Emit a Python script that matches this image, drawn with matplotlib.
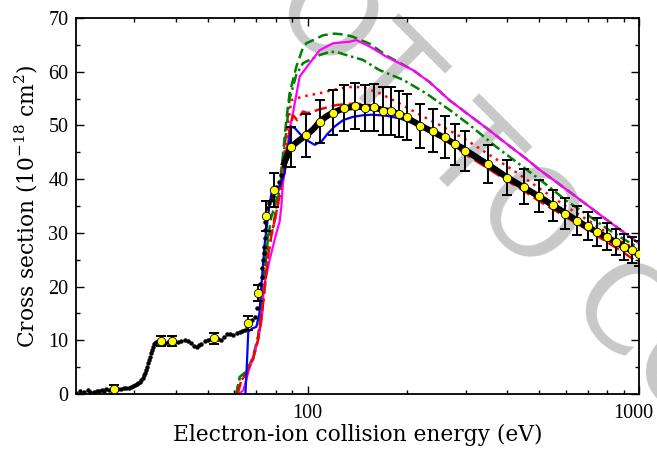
import numpy as np
import matplotlib
matplotlib.use("Agg")
import matplotlib.pyplot as plt
import matplotlib.transforms as mtransforms
from matplotlib.ticker import FixedLocator, FixedFormatter, NullFormatter, MultipleLocator

plt.rcParams['font.family'] = ['DejaVu Serif']
plt.rcParams['mathtext.fontset'] = 'dejavuserif'

# experiment, low-energy small dots
dots_E = [20.0, 20.6, 21.2, 21.7, 22.1, 22.6, 23.1, 23.5, 23.9, 24.3, 24.7, 25.2, 25.7, 26.3, 26.8,
          27.4, 27.9, 28.4, 28.9, 29.4, 29.8, 30.1, 30.5, 30.8, 31.2, 31.5, 31.8, 32.0, 32.3, 32.5,
          32.7, 32.9, 33.2, 33.4, 33.6, 33.8, 34.1, 34.3, 34.6, 34.9, 35.4, 36.0, 36.6, 37.2, 37.8,
          38.3, 39.0, 39.8, 40.6, 41.5, 42.6, 43.6, 44.6, 45.4, 46.2, 47.0, 47.8, 48.9, 50.0, 51.2,
          52.4, 53.6, 54.9, 55.9, 56.9, 58.2, 59.6, 61.0, 62.4, 63.5, 64.6, 65.8, 66.9, 68.0, 69.2,
          70.2, 71.2, 72.0, 72.6, 73.0, 73.3, 73.6, 73.8, 74.1, 74.3, 74.6, 74.9, 75.6, 76.3, 77.4,
          78.6, 79.5, 80.4, 81.8, 83.3, 84.8, 86.2]
dots_y = [0.2, 0.5, 0.3, 0.75, 0.4, 0.4, 0.6, 0.5, 0.75, 0.6, 0.9, 0.75, 0.8, 0.9, 0.9,
          1.0, 1.1, 1.2, 1.1, 1.3, 1.4, 1.6, 1.8, 2.0, 2.3, 2.6, 3.0, 3.5, 4.0, 4.5,
          5.1, 5.7, 6.3, 6.9, 7.6, 8.2, 8.8, 9.3, 9.5, 9.7, 9.8, 9.7, 9.7, 9.5, 9.6,
          9.6, 9.5, 9.6, 9.7, 9.9, 10.0, 9.8, 9.5, 9.0, 8.8, 9.1, 9.4, 9.8, 10.0, 10.3,
          10.4, 10.2, 10.0, 10.6, 11.2, 11.1, 11.0, 11.3, 11.5, 11.8, 12.0, 12.6, 13.2, 13.8, 14.4,
          16.0, 18.7, 20.5, 21.8, 23.4, 24.9, 26.2, 27.4, 29.0, 30.5, 32.0, 33.6, 34.6, 35.5, 36.1,
          36.9, 37.8, 38.6, 39.5, 40.8, 42.5, 44.0]

# experiment, thick line
exp_E = [85, 88.9, 94.6, 99.1, 104, 108.7, 114, 119.2, 128.7, 138.6, 148.9, 158.5, 168.7, 178.8,
         189.4, 198.4, 218.7, 238.8, 258.9, 278.9, 299.6, 348.4, 398.2, 448, 498.5, 547, 598.5,
         648.9, 699, 749, 797.6, 848.9, 899, 948.7, 1000]
exp_y = [43.0, 46.0, 47.3, 48.2, 49.3, 50.7, 51.7, 52.4, 53.2, 53.5, 53.4, 53.3, 52.9, 52.6,
         52.1, 51.5, 50.0, 48.8, 47.7, 46.5, 45.3, 42.8, 40.4, 38.5, 36.8, 35.2, 33.7,
         32.3, 31.1, 30.1, 29.2, 28.3, 27.4, 26.7, 26.0]

# experiment, absolute points
pts_E = [26, 36, 39, 52, 66, 71, 75, 79, 89, 99, 109, 119, 129, 139, 149, 159, 169, 179, 189, 199,
         219, 239, 259, 279, 299, 349, 399, 449, 499, 549, 599, 649, 699, 749, 799, 849, 899, 949, 999]
pts_y = [0.87, 9.9, 9.9, 10.4, 13.2, 18.75, 33.2, 38.0, 46.0, 48.2, 50.7, 52.4, 53.3, 53.6, 53.3,
         53.4, 52.7, 52.7, 52.1, 51.5, 49.9, 49.0, 47.9, 46.5, 45.3, 42.8, 40.3, 38.6, 36.8, 35.1,
         33.6, 32.3, 31.2, 30.1, 29.3, 28.3, 27.4, 26.75, 26.1]
pts_err = [0.8, 0.9, 0.9, 1.0, 1.3, 1.5, 2.8, 3.1, 3.7, 4.0, 4.0, 4.2, 4.3, 4.3, 4.3, 4.4, 4.4,
           4.4, 4.3, 4.3, 4.1, 4.0, 3.9, 3.8, 3.7, 3.5, 3.3, 3.2, 3.0, 2.9, 2.8, 2.7, 2.6, 2.6,
           2.5, 2.5, 2.4, 2.4, 2.3]

# theory curves
blue_E = [64.9, 65.6, 66.2, 68.0, 70.0, 71.5, 72.6, 74.2, 76.8, 78.3, 80.0, 82.3, 85.2, 87.5, 89.3,
          91.5, 94.6, 99, 105, 110, 115, 120.6, 128, 137, 147, 157, 173, 190, 210, 240, 270, 294,
          340, 397, 450, 500, 600, 700, 800, 900, 1000]
blue_y = [0, 6.0, 11.6, 12.2, 12.5, 15.0, 20.6, 28.0, 35.5, 38.3, 38.5, 38.6, 41.1, 46.0, 49.8,
          49.5, 48.5, 47.3, 46.4, 47.0, 48.5, 49.8, 51.0, 51.6, 51.9, 52.0, 51.8, 51.3, 50.3, 48.6,
          47.2, 46.2, 43.6, 40.8, 38.6, 36.8, 33.8, 31.2, 29.2, 27.5, 26.1]

magenta_E = [62.0, 64.0, 66.9, 69.0, 70.8, 72.5, 73.3, 73.5, 76.8, 80.4, 82.3, 83.3, 84.2, 86.2,
             88.0, 90.3, 94.6, 101.4, 108.7, 119.2, 133.9, 140.2, 153.9, 172.8, 207.9, 233, 268,
             300, 350, 400, 450, 500, 600, 700, 800, 900, 1000]
magenta_y = [0.0, 0.7, 5.1, 7.5, 10.0, 13.5, 16.3, 19.5, 25.0, 29.9, 32.1, 34.9, 39.2, 43.6,
             49.0, 52.3, 59.1, 61.6, 64.0, 65.3, 65.6, 65.9, 64.7, 62.8, 60.3, 58.1, 54.7,
             52.4, 49.3, 46.5, 44.1, 41.8, 38.2, 35.1, 32.4, 30.1, 28.0]

green1_E = [60.9, 62.4, 65.3, 68.4, 70.8, 72.6, 73.3, 75.9, 77.7, 80.0, 82.3, 84.2, 86.2, 88.2,
            90.3, 92.5, 96.8, 99.1, 104, 111.3, 120.6, 130, 137, 146, 154, 173, 208, 233, 268,
            300, 350, 400, 450, 500, 600, 700, 800, 900, 1000]
green1_y = [0, 3.2, 4.2, 6.9, 10.7, 15.6, 19.4, 29.0, 33.0, 35.5, 38.8, 44.5, 51.0, 56.0,
            58.5, 61.0, 64.5, 65.3, 65.9, 66.8, 67.1, 66.9, 66.5, 65.8, 65.2, 63.0, 60.3, 58.1, 54.7,
            52.4, 49.3, 46.5, 44.1, 41.8, 38.2, 35.1, 32.4, 30.1, 28.0]

green2_E = [60.9, 62.4, 65.3, 68.4, 70.8, 72.6, 73.3, 75.0, 75.9, 77.7, 78.6, 80.0, 82.3, 84.2,
            86.2, 88.2, 92.5, 96.8, 103.8, 108.7, 116.5, 122, 130.9, 146.8, 164.8, 194, 227.5,
            268, 308, 371, 446, 535, 603, 700, 800, 900, 1000]
green2_y = [0, 3.0, 4.0, 6.5, 10.3, 15.0, 19.0, 27.0, 29.5, 30.0, 31.0, 34.0, 38.0, 43.0,
            49.0, 55.0, 59.5, 61.6, 62.5, 63.1, 63.7, 63.7, 63.1, 62.2, 60.3, 58.5, 56.0,
            52.9, 50.1, 46.0, 42.3, 38.6, 36.0, 33.3, 30.8, 28.8, 27.2]

reddot_E = [61.5, 63, 65.3, 68.4, 70.8, 72.6, 74, 76, 78, 80, 82.3, 84.2, 86.2, 89.3, 96.8, 108.7,
            124.9, 137, 147, 165, 189.4, 217.8, 250, 301, 354, 416, 500, 603, 724, 833, 1000]
reddot_y = [0, 2.5, 3.8, 6.5, 10.0, 14.5, 19.0, 26, 30, 33, 37, 42, 48, 54.7, 55.4, 56.0,
            56.9, 57.2, 57.1, 56.0, 54.1, 52.0, 50.1, 47.3, 44.5, 41.7, 38.3, 34.9, 31.8, 29.3, 26.6]

reddash_E = [61.5, 63, 65.3, 68.4, 70.8, 72.6, 74, 76, 78, 80, 82.3, 84.2, 86.2, 88.2, 90.3, 93,
             96.8, 100, 108.7, 122, 140, 160, 180, 200, 230, 260, 300, 350, 400, 450, 500, 600,
             700, 800, 900, 1000]
reddash_y = [0, 2.5, 3.8, 6.5, 10.0, 14.5, 19.0, 26, 30, 33, 37, 41, 45, 49, 51.9, 51.0,
             52.6, 52.3, 53.0, 53.8, 54.1, 53.6, 52.6, 51.4, 49.3, 47.3, 44.6, 42.0, 39.7, 37.8,
             35.9, 33.0, 30.5, 28.3, 26.3, 24.3]

fig = plt.figure(figsize=(6.57, 4.51), dpi=100)
ax = fig.add_axes([0.1157, 0.1264, 0.857, 0.8336])
ax.patch.set_alpha(0)

# grey watermark behind the axes
fig.text(0.760, 0.470, "NOT TO COPY", rotation=-45, rotation_mode='anchor',
         ha='center', va='baseline', fontsize=88, color='#c8c8c8',
         family='DejaVu Sans', zorder=-1)

ax.plot(green1_E, green1_y, color='green', lw=1.8, ls=(0, (4, 2)), zorder=2)
ax.plot(green2_E, green2_y, color='green', lw=1.8, ls=(0, (4, 1.5, 1, 1.5)), zorder=2)
ax.plot(magenta_E, magenta_y, color='magenta', lw=1.6, zorder=2)
ax.plot(reddot_E, reddot_y, color='red', lw=1.8, ls=(0, (1, 2)), zorder=2)
ax.plot(reddash_E, reddash_y, color='red', lw=1.8, ls=(0, (5, 2)), zorder=2)
ax.plot(blue_E, blue_y, color='blue', lw=1.6, zorder=2)

ax.plot(dots_E, dots_y, 'o', color='black', ms=2.2, zorder=3)
ax.plot(exp_E, exp_y, color='black', lw=4.5, zorder=3)
ax.errorbar(pts_E, pts_y, yerr=pts_err, fmt='none', ecolor='black', elinewidth=1.4,
            capsize=3.5, capthick=1.4, zorder=4)
ax.plot(pts_E, pts_y, 'o', mfc='yellow', mec='black', mew=0.6, ms=6, zorder=5)

ax.set_xscale('log')
ax.set_xlim(20, 1000)
ax.set_ylim(0, 70)
ax.xaxis.set_major_locator(FixedLocator([100, 1000]))
ax.xaxis.set_major_formatter(FixedFormatter(['100', '1000']))
ax.xaxis.set_minor_locator(FixedLocator([30, 40, 50, 60, 70, 80, 90, 200, 300, 400, 500, 600, 700, 800, 900]))
ax.xaxis.set_minor_formatter(NullFormatter())
ax.yaxis.set_major_locator(MultipleLocator(10))
ax.yaxis.set_minor_locator(MultipleLocator(5))
ax.tick_params(which='both', direction='in', top=True, right=True, width=1, labelsize=14.5,
               labelfontfamily='Liberation Serif')
ax.tick_params(which='major', length=6)
ax.tick_params(axis='x', which='major', pad=7)
ax.tick_params(axis='y', which='major', pad=5.5)
ax.tick_params(which='minor', length=3)
for s in ax.spines.values():
    s.set_linewidth(1.3)

ax.set_xlabel('Electron-ion collision energy (eV)', fontsize=15.7, labelpad=1)
ax.set_ylabel('Cross section (10$^{-18}$ cm$^2$)', fontsize=15.7, labelpad=6)

# pull the "1000" label a little inside the figure edge
fig.canvas.draw()
lab = ax.xaxis.get_major_ticks()[1].label1
lab.set_transform(lab.get_transform() + mtransforms.ScaledTranslation(-0.055, 0, fig.dpi_scale_trans))

fig.savefig('out.png', dpi=100)
